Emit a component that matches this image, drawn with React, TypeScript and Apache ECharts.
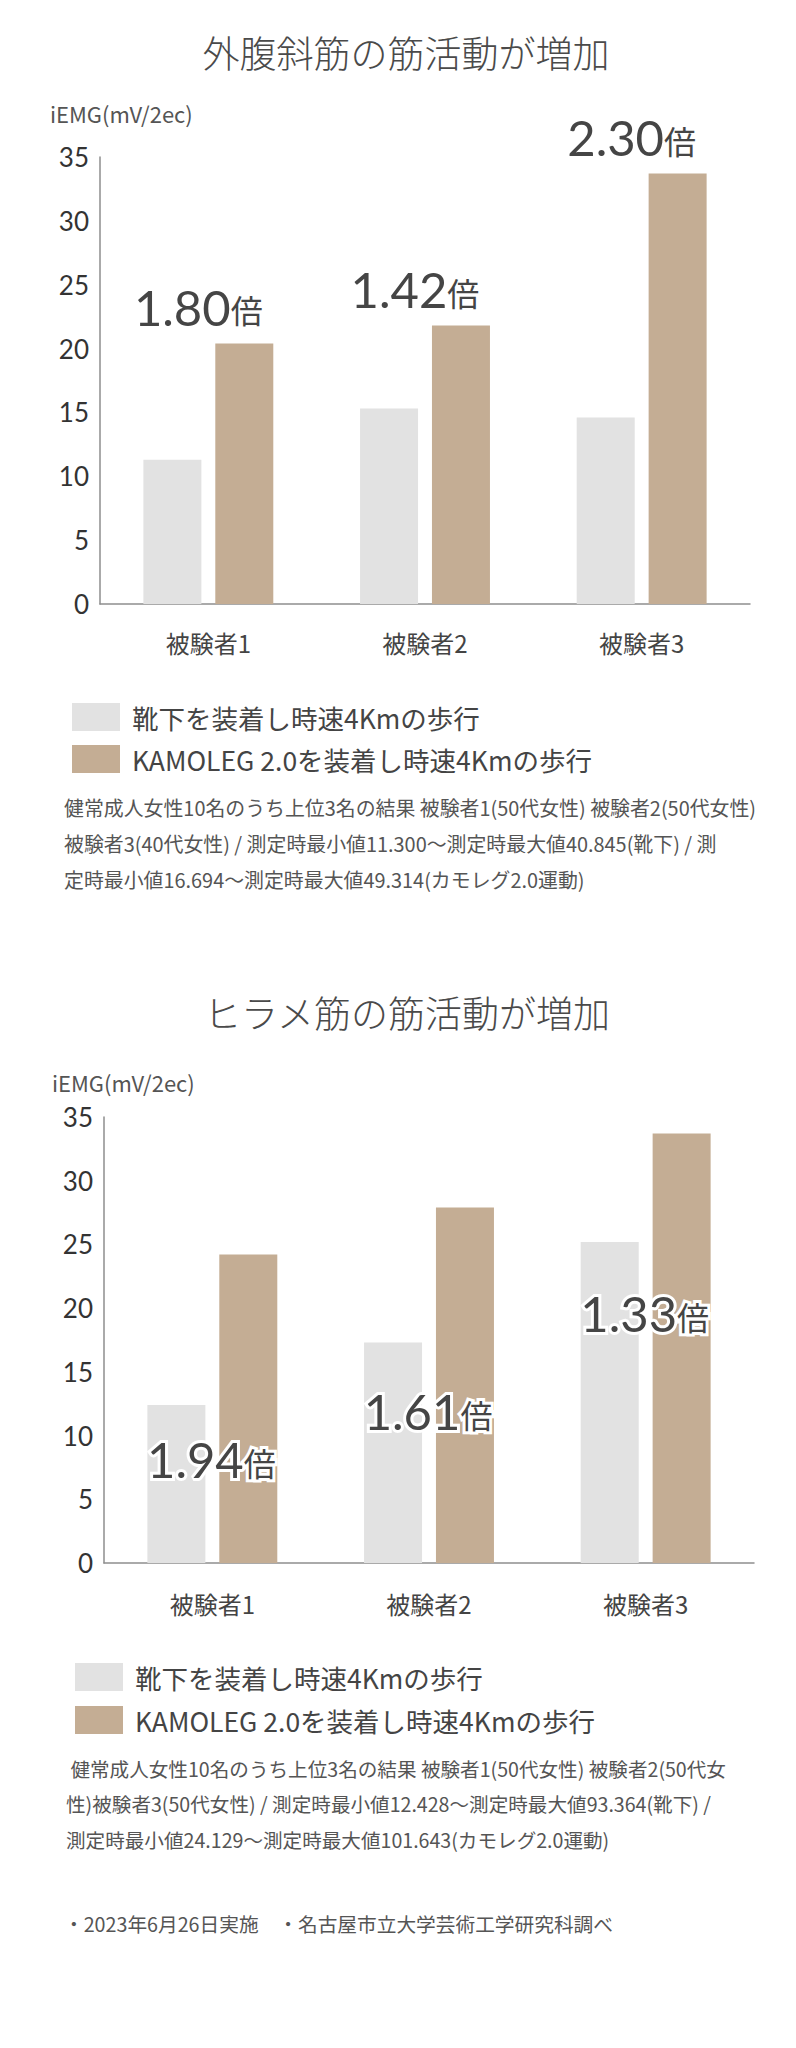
import React, { useEffect, useRef } from "react";
import * as echarts from "echarts";

// ---- data ----
const categories = ["被験者1", "被験者2", "被験者3"];
const seriesNames = ["靴下を装着し時速4Kmの歩行", "KAMOLEG 2.0を装着し時速4Kmの歩行"];

// 外腹斜筋
const obliqueSocks = [11.3, 15.3, 14.6];
const obliqueKamoleg = [20.4, 21.8, 33.7];
const obliqueRatios = ["1.80", "1.42", "2.30"];

// ヒラメ筋
const soleusSocks = [12.4, 17.3, 25.2];
const soleusKamoleg = [24.2, 27.9, 33.7];
const soleusRatios = ["1.94", "1.61", "1.33"];

const yMin = 0;
const yMax = 35;
const yInterval = 5;

const title1 = "外腹斜筋の筋活動が増加";
const title2 = "ヒラメ筋の筋活動が増加";
const unitLabel = "iEMG(mV/2ec)";
const notes1 = [
  "健常成人女性10名のうち上位3名の結果 被験者1(50代女性) 被験者2(50代女性)",
  "被験者3(40代女性) / 測定時最小値11.300〜測定時最大値40.845(靴下) / 測",
  "定時最小値16.694〜測定時最大値49.314(カモレグ2.0運動)",
];
const notes2 = [
  " 健常成人女性10名のうち上位3名の結果 被験者1(50代女性) 被験者2(50代女",
  "性)被験者3(50代女性) / 測定時最小値12.428〜測定時最大値93.364(靴下) /",
  "測定時最小値24.129〜測定時最大値101.643(カモレグ2.0運動)",
];
const footer = "・2023年6月26日実施　・名古屋市立大学芸術工学研究科調べ";

// ---- styles ----
const FONT = "'Noto Sans CJK JP', 'Noto Sans', sans-serif";
const NUM_FONT = "Lato, 'Noto Sans CJK JP', sans-serif";
const GRAY = "#e2e2e2";
const BROWN = "#c4ad94";
const AXIS = "#8e8e8e";
const soleusLabelDrop = [24, 38, 41];

function richLabel(outline: boolean) {
  const border = outline ? { textBorderColor: "#fff", textBorderWidth: 6 } : {};
  return {
    n: { fontSize: 49, fontFamily: NUM_FONT, fontWeight: 400, color: "#454545", lineHeight: 50, verticalAlign: "bottom", ...border },
    u: { fontSize: 32, fontFamily: FONT, color: "#454545", lineHeight: 40, verticalAlign: "bottom", padding: [0, 0, 6, 0], ...border },
  };
}

export default function App() {
  const ref = useRef<HTMLDivElement>(null);
  useEffect(() => {
    if (!ref.current) return;
    const chart = echarts.init(ref.current, undefined, { renderer: "svg" });

    const xAxisBase = (gridIndex: number, margin: number) => ({
      gridIndex,
      type: "category",
      data: categories,
      axisLine: { lineStyle: { color: AXIS, width: 1.5 } },
      axisTick: { show: false },
      axisLabel: { fontSize: 24, color: "#444", margin, fontFamily: FONT },
    });
    const yAxisBase = (gridIndex: number) => ({
      gridIndex,
      type: "value",
      min: yMin,
      max: yMax,
      interval: yInterval,
      axisLine: { show: true, lineStyle: { color: AXIS, width: 1.5 } },
      axisTick: { show: false },
      splitLine: { show: false },
      axisLabel: { fontSize: 26, color: "#333", margin: 11, fontFamily: NUM_FONT },
    });
    const legendBase = (left: number, top: number, gap: number) => ({
      orient: "vertical",
      left,
      top,
      itemWidth: 48,
      itemHeight: 28,
      itemGap: gap,
      icon: "rect",
      selectedMode: false,
      data: seriesNames,
      textStyle: { fontSize: 26.5, color: "#444", fontFamily: FONT, padding: [0, 0, 0, 7] },
    });

    const textEl = (x: number, y: number, text: string, fontSize: number, fill: string, align = "left", weight: any = 400) => ({
      type: "text",
      x,
      y,
      style: { text, fontSize, fill, fontFamily: FONT, fontWeight: weight, align, verticalAlign: "middle", textAlign: align, textVerticalAlign: "middle" },
    });

    const graphic: any[] = [
      textEl(406, 52, title1, 37, "#4a4a4a", "center", 300),
      textEl(50, 113, unitLabel, 22, "#555"),
      textEl(407, 1012, title2, 37, "#4a4a4a", "center", 300),
      textEl(52, 1082, unitLabel, 22, "#555"),
      ...notes1.map((t, i) => textEl(64, 807 + i * 36, t, 19.9, "#555")),
      ...notes2.map((t, i) => textEl(66, 1768 + i * 35.5, t, 19.6, "#555")),
      textEl(64, 1923, footer, 19.7, "#555"),
    ];

    chart.setOption({
      animation: false,
      backgroundColor: "#fff",
      textStyle: { fontFamily: FONT },
      grid: [
        { left: 100, top: 157, width: 650, height: 447 },
        { left: 104, top: 1117, width: 650, height: 446 },
      ],
      xAxis: [xAxisBase(0, 26), xAxisBase(1, 28)],
      yAxis: [yAxisBase(0), yAxisBase(1)],
      legend: [legendBase(67, 698, 14), legendBase(70, 1658, 15)],
      series: [
        {
          name: seriesNames[0],
          type: "bar",
          xAxisIndex: 0,
          yAxisIndex: 0,
          data: obliqueSocks,
          barWidth: 58,
          barGap: "24%",
          itemStyle: { color: GRAY },
          emphasis: { disabled: true },
        },
        {
          name: seriesNames[1],
          type: "bar",
          xAxisIndex: 0,
          yAxisIndex: 0,
          data: obliqueKamoleg,
          barWidth: 58,
          barGap: "24%",
          itemStyle: { color: BROWN },
          emphasis: { disabled: true },
          label: {
            show: true,
            position: "top",
            distance: 4,
            offset: [-46, -8],
            formatter: (p: any) => `{n|${obliqueRatios[p.dataIndex]}}{u|倍}`,
            rich: richLabel(false),
          },
        },
        {
          name: seriesNames[0],
          type: "bar",
          xAxisIndex: 1,
          yAxisIndex: 1,
          z: 3,
          data: soleusSocks.map((v, i) => ({
            value: v,
            label: { offset: [35, soleusLabelDrop[i]] },
          })),
          barWidth: 58,
          barGap: "24%",
          itemStyle: { color: GRAY },
          emphasis: { disabled: true },
          label: {
            show: true,
            position: "insideTop",
            distance: 5,
            formatter: (p: any) => `{n|${soleusRatios[p.dataIndex]}}{u|倍}`,
            rich: richLabel(true),
          },
        },
        {
          name: seriesNames[1],
          type: "bar",
          xAxisIndex: 1,
          yAxisIndex: 1,
          data: soleusKamoleg,
          barWidth: 58,
          barGap: "24%",
          itemStyle: { color: BROWN },
          emphasis: { disabled: true },
        },
      ],
      graphic,
    });
    return () => chart.dispose();
  }, []);

  return (
    <div
      ref={ref}
      style={{ position: "absolute", left: 0, top: 0, width: 796, height: 2048, background: "#fff" }}
    />
  );
}
